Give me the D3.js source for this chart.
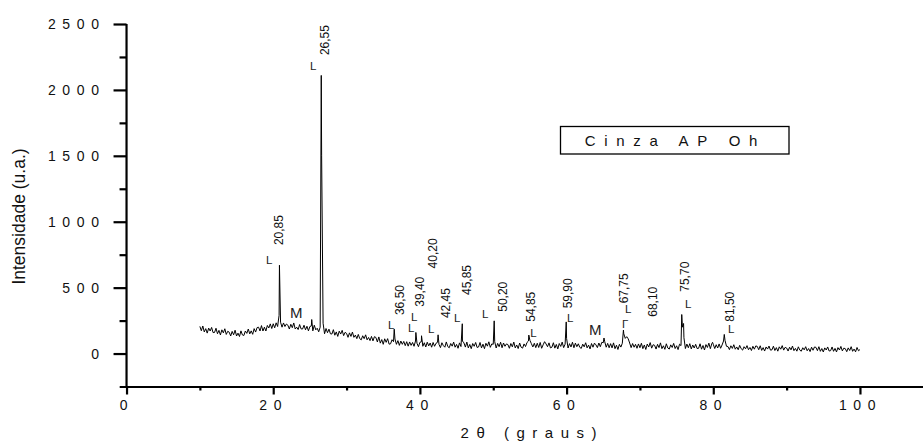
<!DOCTYPE html>
<html>
<head>
<meta charset="utf-8">
<script src="https://cdn.jsdelivr.net/npm/d3@7"></script>
<style>
  body { margin: 0; background: #fff; }
  svg { display: block; font-family: "Liberation Sans", Arial, sans-serif; }
</style>
</head>
<body>
<div id="chart"></div>
<script>
// scan: 2theta from 10 to 100 in 0.2 steps
const scanStart = 10;
const scanStep = 0.2;
const scanIntensity = [
  206,173,209,164,189,155,193,171,198,159,
  160,192,150,176,141,180,157,188,145,169,
  162,133,168,142,177,133,155,129,172,141,
  137,171,153,186,149,172,146,189,163,197,
  200,171,212,171,200,171,213,194,225,190,
  226,195,233,205,290,238,200,232,205,224,
  215,186,222,196,232,186,200,182,220,187,
  186,215,180,207,172,205,210,172,215,180,
  192,165,200,1500,230,150,190,158,185,150,
  148,181,139,164,130,170,148,176,136,161,
  153,123,157,130,163,123,140,113,145,113,
  104,135,113,142,104,122,98,130,96,128,
  122,88,126,79,106,70,112,85,113,71,
  74,105,90,110,70,98,62,95,70,92,
  60,90,56,88,62,84,55,95,78,52,
  85,90,55,82,50,86,58,80,48,84,
  55,78,85,70,45,82,60,48,88,53,
  44,76,56,87,48,69,40,81,53,95,
  81,49,87,43,69,37,76,55,84,46,
  50,84,43,71,37,78,56,89,47,73,
  70,90,42,77,52,86,44,80,55,73,
  68,40,76,51,87,43,65,38,80,48,
  41,73,53,84,95,100,75,50,78,45,
  78,46,84,40,66,90,73,52,81,43,
  48,82,41,69,35,76,54,87,45,71,
  115,42,75,50,86,44,79,52,74,47,
  39,71,51,82,43,64,35,76,48,79,
  66,45,80,52,85,82,90,48,77,44,
  75,43,81,37,63,31,70,49,78,150,
  115,128,112,80,45,76,48,70,40,73,
  44,78,37,65,31,72,50,83,41,67,
  62,34,70,45,81,37,59,32,74,42,
  34,66,46,77,38,59,30,71,60,200,
  120,38,72,44,75,35,65,42,70,38,
  40,74,33,61,27,68,46,79,37,75,
  70,38,67,42,73,40,65,95,100,55,
  53,30,59,39,67,33,50,29,62,37,
  26,52,36,60,29,46,23,55,33,58,
  54,29,59,24,45,19,50,34,57,26,
  28,56,23,45,18,51,33,60,26,47,
  42,19,48,28,57,22,39,18,51,26,
  18,44,28,52,21,38,15,48,25,50,
  47,22,52,17,38,12,43,27,50,19,
  22,50,17,39,12,45,27,54,20,41,
  37,14,43,23,52,17,34,13,46,21,
  30
];

// peak tops between scan points [2theta, intensity]
const peakTops = [
  [20.85, 670], [25.25, 258], [26.55, 2110], [36.5, 185], [39.45, 160],
  [40.22, 135], [42.48, 142], [45.78, 226], [50.13, 248], [54.85, 140],
  [59.95, 240], [65.1, 118], [67.75, 178], [75.7, 296], [75.95, 228],
  [79.9, 85], [81.5, 145]
];

// rotated peak labels
const peakLabels = ["20,85","26,55","36,50","39,40","40,20","42,45","45,85","50,20","54,85","59,90","67,75","68,10","75,70","81,50"];
const peakLabelTheta = [20.79,26.97,37.29,39.92,41.75,43.56,46.38,51.37,55.11,60.23,67.83,71.74,76.14,82.28];
const peakLabelIntensity = [823,2264,292,355,646,269,444,317,241,343,381,279,469,241];

// phase markers
const markerText = ["L","L","L","L","L","L","L","L","L","L","L","\u0393","L","L"];
const markerTheta = [19.02,25.02,35.65,38.78,38.37,41.1,44.65,48.47,55.03,60.05,67.96,67.55,76.13,82.0];
const markerIntensity = [679,2151,186,250,160,156,239,269,125,239,307,193,345,156];
const mullitTheta = [22.29, 63.05];
const mullitIntensity = [269, 140];

const xMajor = [0, 20, 40, 60, 80, 100];
const xMinor = [10, 30, 50, 70, 90, 110];
const yMajor = [0, 500, 1000, 1500, 2000, 2500];
const yMinor = [250, 750, 1250, 1750, 2250];
const sampleName = "Cinza AP Oh";

const W = 923, H = 441;

const svg = d3.select("#chart").append("svg")
  .attr("width", W)
  .attr("height", H);

const x = d3.scaleLinear().domain([-1, 110]).range([119.2, 933.3]);
const y = d3.scaleLinear().domain([-250, 2500]).range([386.5, 24]);

// build trace
const trace = scanIntensity.map((v, i) => [scanStart + i * scanStep, v])
  .concat(peakTops);
trace.sort((a, b) => a[0] - b[0]);

svg.append("path")
  .datum(trace)
  .attr("fill", "none")
  .attr("stroke", "#000")
  .attr("stroke-width", 1)
  .attr("d", d3.line().x(d => x(d[0])).y(d => y(d[1])));

// axes
const axisW = 2.2;
svg.append("g")
  .attr("transform", `translate(0,${y(-250)})`)
  .call(d3.axisBottom(x).tickValues(xMajor).tickSize(8).tickSizeOuter(0).tickPadding(5.5).tickFormat(d3.format("d")));
svg.append("g")
  .attr("transform", `translate(0,${y(-250)})`)
  .call(d3.axisBottom(x).tickValues(xMinor).tickSize(4).tickFormat(""))
  .select(".domain").remove();

const gy = svg.append("g")
  .attr("transform", `translate(${x(0)},0)`)
  .call(d3.axisLeft(y).tickValues(yMajor).tickSize(13).tickSizeOuter(0).tickPadding(8).tickFormat(d3.format("d")));
svg.append("g")
  .attr("transform", `translate(${x(0)},0)`)
  .call(d3.axisLeft(y).tickValues(yMinor).tickSize(7).tickFormat(""))
  .select(".domain").remove();

svg.selectAll(".domain, .tick line")
  .attr("stroke", "#000")
  .attr("stroke-width", axisW);

gy.select(".domain").attr("d", `M0,${y(-250)}V${y(2500)}`);

svg.selectAll(".tick text")
  .attr("fill", "#111")
  .style("font-family", "'Liberation Sans', Arial, sans-serif")
  .style("font-size", "14px")
  .style("letter-spacing", "6.6px");

// axis titles
svg.append("text")
  .attr("x", 532.3)
  .attr("y", 438)
  .attr("text-anchor", "middle")
  .style("font-size", "15px")
  .style("letter-spacing", "7.5px")
  .attr("fill", "#111")
  .text("2\u03b8 (graus)");

svg.append("text")
  .attr("transform", "translate(25,216.5) rotate(-90)")
  .attr("text-anchor", "middle")
  .style("font-size", "17.5px")
  .attr("fill", "#111")
  .text("Intensidade (u.a.)");

// peak labels
svg.append("g").selectAll("text")
  .data(peakLabels)
  .join("text")
  .attr("transform", (d, i) => `translate(${x(peakLabelTheta[i])},${y(peakLabelIntensity[i])}) rotate(-90)`)
  .attr("dy", "0.35em")
  .style("font-size", "12px")
  .attr("fill", "#111")
  .text(d => d);

svg.append("g").selectAll("text")
  .data(markerText)
  .join("text")
  .attr("x", (d, i) => x(markerTheta[i]))
  .attr("y", (d, i) => y(markerIntensity[i]))
  .style("font-size", "11.5px")
  .attr("fill", "#222")
  .text(d => d);

svg.append("g").selectAll("text")
  .data(mullitTheta)
  .join("text")
  .attr("x", d => x(d))
  .attr("y", (d, i) => y(mullitIntensity[i]))
  .style("font-size", "15px")
  .attr("fill", "#222")
  .text("M");

// sample box
svg.append("rect")
  .attr("x", 560.5)
  .attr("y", 126.5)
  .attr("width", 228.5)
  .attr("height", 27.5)
  .attr("fill", "#fff")
  .attr("stroke", "#000")
  .attr("stroke-width", 1.3);

svg.append("text")
  .attr("x", 675.4)
  .attr("y", 146)
  .attr("text-anchor", "middle")
  .style("font-size", "15px")
  .style("letter-spacing", "8.7px")
  .attr("fill", "#111")
  .text(sampleName);
</script>
</body>
</html>
